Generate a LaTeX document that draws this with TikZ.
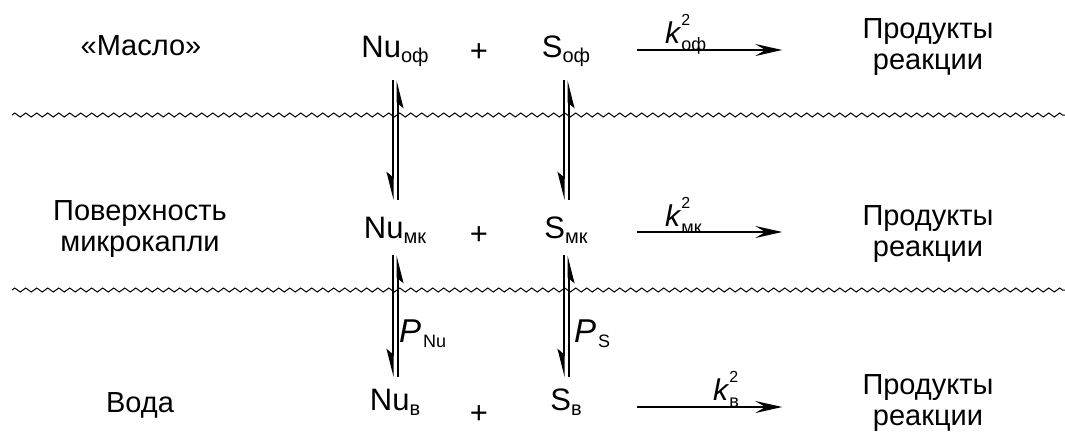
\documentclass[tikz,border=0pt]{standalone}
\usepackage{fontspec}
\setmainfont{Liberation Sans}
\usetikzlibrary{arrows.meta,decorations.pathmorphing}
\newcommand\spsub[1]{\raisebox{-5pt}{\fontsize{20}{20}\selectfont #1}}
\newcommand\kconst[1]{\textit{k}\makebox[0pt][l]{\raisebox{18pt}{\fontsize{16}{16}\selectfont 2}}\raisebox{-7pt}{\fontsize{18}{18}\selectfont #1}}
\newcommand\pconst[1]{\textit{P}\hspace{2pt}\raisebox{-5pt}{\fontsize{18}{18}\selectfont #1}}
\begin{document}
\begin{tikzpicture}[x=1pt,y=-1pt,
  lab/.style={font=\fontsize{29}{31}\selectfont, inner sep=0pt, anchor=base},
  spc/.style={font=\fontsize{31}{36}\selectfont, inner sep=0pt, anchor=base, text height=21pt, text depth=8pt},
  plus/.style={font=\fontsize{31}{36}\selectfont, inner sep=0pt},
  kl/.style={font=\fontsize{30}{30}\selectfont, inner sep=0pt, anchor=base west},
  pl/.style={font=\fontsize{33}{34}\selectfont, inner sep=0pt, anchor=base west},
  wave/.style={decorate, decoration={zigzag, segment length=11pt, amplitude=2pt}, line width=1pt},
  eqh/.style={line width=2pt, -{Stealth[harpoon,swap,length=24pt,width=12pt,inset=5pt]}},
  rxn/.style={line width=2pt, -{Stealth[length=27pt,width=12pt,inset=10pt]}},
]
\useasboundingbox (0,0) rectangle (1065,432);

% interfaces
\draw[wave] (12,115) -- (1065,115);
\draw[wave] (12,290) -- (1065,290);

% phase labels
\node[lab] (oil) at (141,55) {«Масло»};
\node[lab] (surf) at (140,220) {\begin{tabular}[t]{@{}c@{}}Поверхность\\микрокапли\end{tabular}};
\node[lab] (water) at (140,412) {Вода};

% species
\node[spc] (nu1) at (395,57) {Nu\spsub{оф}};
\node[spc] (nu2) at (395,238) {Nu\spsub{мк}};
\node[spc] (nu3) at (395,410) {Nu\spsub{в}};
\node[spc] (s1) at (566,57) {S\spsub{оф}};
\node[spc] (s2) at (566,238) {S\spsub{мк}};
\node[spc] (s3) at (566,410) {S\spsub{в}};
\node[plus] (pl1) at (479,53) {+};
\node[plus] (pl2) at (479,236) {+};
\node[plus] (pl3) at (479,415) {+};

% products
\node[lab] (p1) at (928,38) {\begin{tabular}[t]{@{}c@{}}Продукты\\реакции\end{tabular}};
\node[lab] (p2) at (928,225) {\begin{tabular}[t]{@{}c@{}}Продукты\\реакции\end{tabular}};
\node[lab] (p3) at (928,394) {\begin{tabular}[t]{@{}c@{}}Продукты\\реакции\end{tabular}};

% equilibria oil <-> surface
\draw[eqh, shorten <=15pt, shorten >=17pt] ([xshift=-2.5pt]nu1.south) -- ([xshift=-2.5pt]nu2.north);
\draw[eqh, shorten <=17pt, shorten >=15pt] ([xshift=2.5pt]nu2.north) -- ([xshift=2.5pt]nu1.south);
\draw[eqh, shorten <=15pt, shorten >=17pt] ([xshift=-2.5pt]s1.south) -- ([xshift=-2.5pt]s2.north);
\draw[eqh, shorten <=17pt, shorten >=15pt] ([xshift=2.5pt]s2.north) -- ([xshift=2.5pt]s1.south);
% equilibria surface <-> water
\draw[eqh, shorten <=9pt, shorten >=12pt] ([xshift=-2.5pt]nu2.south) -- ([xshift=-2.5pt]nu3.north);
\draw[eqh, shorten <=12pt, shorten >=9pt] ([xshift=2.5pt]nu3.north) -- ([xshift=2.5pt]nu2.south);
\draw[eqh, shorten <=9pt, shorten >=12pt] ([xshift=-2.5pt]s2.south) -- ([xshift=-2.5pt]s3.north);
\draw[eqh, shorten <=12pt, shorten >=9pt] ([xshift=2.5pt]s3.north) -- ([xshift=2.5pt]s2.south);

\node[pl] (pnu) at (399,342) {\pconst{Nu}};
\node[pl] (ps) at (574,342) {\pconst{S}};

% reactions
\draw[rxn, shorten >=80pt] ([xshift=71pt,yshift=7pt]s1.base) -- ([yshift=7pt]s1.base -| p1.west);
\draw[rxn, shorten >=80pt] ([xshift=71pt,yshift=6pt]s2.base) -- ([yshift=6pt]s2.base -| p2.west);
\draw[rxn, shorten >=80pt] ([xshift=71pt,yshift=3pt]s3.base) -- ([yshift=3pt]s3.base -| p3.west);

\node[kl] (k1) at (665,43) {\kconst{оф}};
\node[kl] (k2) at (665,226) {\kconst{мк}};
\node[kl] (k3) at (713,400) {\kconst{в}};
\end{tikzpicture}
\end{document}
